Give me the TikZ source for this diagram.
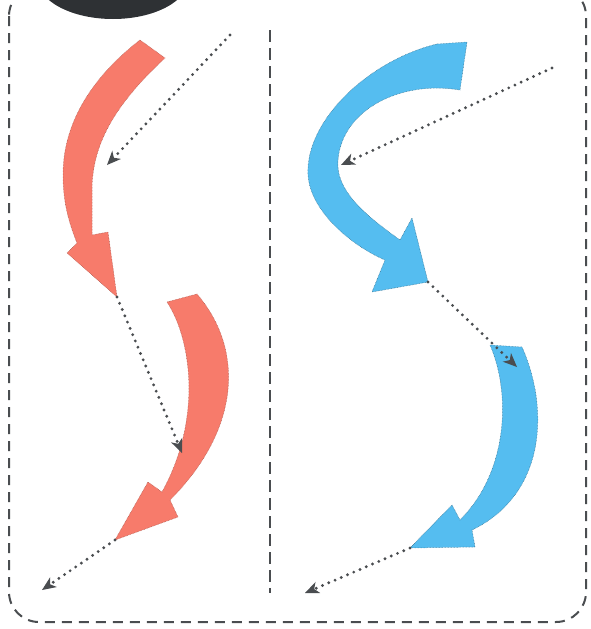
\documentclass[tikz,border=0pt]{standalone}
\usepackage{tikz}
\usetikzlibrary{arrows.meta}

\definecolor{salmonred}{HTML}{F77B6B}
\definecolor{skyblue}{HTML}{55BDF0}
\definecolor{inkgray}{HTML}{4A4D50}
\definecolor{blobgray}{HTML}{2E3134}

\tikzset{
  fatred/.style={fill=salmonred, draw=salmonred!70!black, line width=0.5pt, dash pattern=on 0.6pt off 0.9pt},
  fatblue/.style={fill=skyblue, draw=skyblue!60!black, line width=0.5pt, dash pattern=on 0.6pt off 0.9pt},
  dotarrow/.style={draw=inkgray, line width=3.2pt, line cap=round, dash pattern=on 0pt off 6.8pt,
    -{Stealth[length=14pt,width=12pt,inset=4pt,line width=0pt]}},
  frame/.style={draw=inkgray, line width=2pt, dash pattern=on 10pt off 7pt},
}

\begin{document}
\begin{tikzpicture}[x=1pt,y=-1pt]
   \useasboundingbox (0,0) rectangle (590,629);
   \begin{scope}
     \clip (0,0) rectangle (590,629);
     \fill[blobgray] (113,-22) ellipse [x radius=76, y radius=41];
     \draw[frame, rounded corners=30pt] (9,-14) rectangle (586,622);
   \end{scope}
   \draw[frame, dash pattern=on 12pt off 6pt] (270,30) -- (270,593);

   % left column
   \fill[fatred] (140,40) .. controls (95,75) and (63,120) .. (63,175)
      .. controls (63,205) and (70,225) .. (77,243) -- (67,253) -- (117,297)
      -- (108,232) -- (92,235) -- (92,190) .. controls (92,140) and (120,100) .. (165,58) -- cycle;
   \fill[fatred] (167,302) .. controls (192,340) and (202,420) .. (162,492) -- (148,482)
      -- (115,540) -- (178,517) -- (170,500) .. controls (240,430) and (245,350) .. (197,294) -- cycle;
   \coordinate (redtipA) at (117,297);
   \coordinate (redtipB) at (115,540);
   \coordinate (lstart) at (230,35);
   \coordinate (lendA) at (107,165);
   \coordinate (lendB) at (182,453);
   \coordinate (lendC) at (42,590);
   \draw[dotarrow] (lstart) -- (lendA);
   \draw[dotarrow] (redtipA) -- (lendB);
   \draw[dotarrow] (redtipB) -- (lendC);

   % right column
   \fill[fatblue] (437,44) .. controls (370,60) and (305,120) .. (308,175)
      .. controls (310,210) and (350,245) .. (385,260) -- (372,292) -- (428,282)
      -- (412,218) -- (400,240) .. controls (365,215) and (335,190) .. (338,160)
      .. controls (342,110) and (400,80) .. (460,90) -- (467,42) -- cycle;
   \fill[fatblue] (490,345) .. controls (510,390) and (510,470) .. (460,520) -- (452,505)
      -- (410,548) -- (475,547) -- (472,530) .. controls (545,495) and (550,410) .. (522,347) -- cycle;
   \coordinate (bluetipA) at (428,282);
   \coordinate (bluetipB) at (410,548);
   \coordinate (rstart) at (552,68);
   \coordinate (rendA) at (341,165);
   \coordinate (rendB) at (517,367);
   \coordinate (rendC) at (305,593);
   \draw[dotarrow] (rstart) -- (rendA);
   \draw[dotarrow] (bluetipA) -- (rendB);
   \draw[dotarrow] (bluetipB) -- (rendC);
\end{tikzpicture}
\end{document}
